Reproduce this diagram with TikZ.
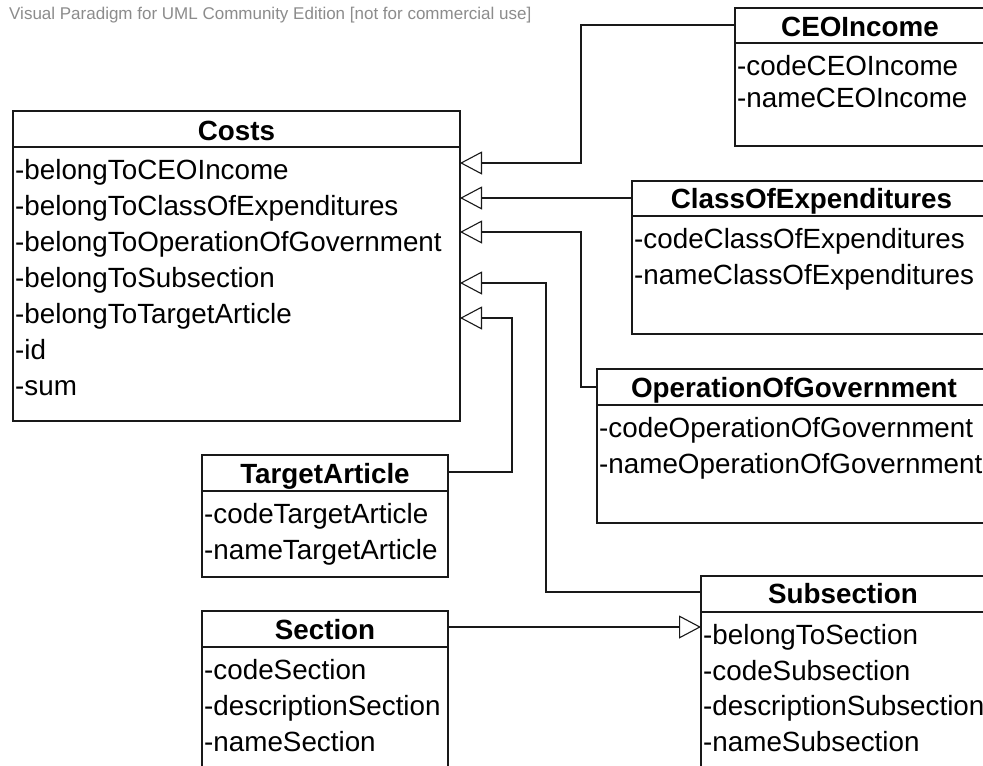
\documentclass[tikz,border=0pt]{standalone}
\usepackage{fontspec}
\setmainfont{Liberation Sans}
\usetikzlibrary{arrows.meta,calc}
\definecolor{wmgray}{RGB}{140,140,140}
\definecolor{linec}{RGB}{25,25,25}
\tikzset{
  classbox/.style={draw=linec, line width=1.3pt, fill=white, rectangle, inner sep=0pt, outer sep=0pt, anchor=north west},
  divline/.style={draw=linec, line width=1.3pt},
  ctitle/.style={font=\fontsize{27.8}{32}\selectfont\bfseries, anchor=base, inner sep=0pt},
  cattr/.style={font=\fontsize{27.8}{32}\selectfont, anchor=base west, inner sep=0pt},
  gen/.style={draw=linec, line width=1.1pt, -{Triangle[open, length=22pt, width=23pt]}},
  watermark/.style={font=\fontsize{17}{20}\selectfont, text=wmgray, anchor=base west, inner sep=0pt},
}
\begin{document}
\begin{tikzpicture}[x=1pt, y=-1pt]
\useasboundingbox (0,0) rectangle (983,766);
\clip (0,0) rectangle (983,766);
\fill[white] (0,0) rectangle (983,766);

\node[watermark] (wm) at (9,19.5) {Visual Paradigm for UML Community Edition [not for commercial use]};

% Costs
\node[classbox, minimum width=447pt, minimum height=310pt] (costs) at (13,111) {};
\draw[divline] (costs.west |- 0,147) -- (costs.east |- 0,147);
\node[ctitle] (costsT) at (236.5,140) {Costs};
\node[cattr] (c1) at (15,179) {-belongToCEOIncome};
\node[cattr] (c2) at (15,215) {-belongToClassOfExpenditures};
\node[cattr] (c3) at (15,251) {-belongToOperationOfGovernment};
\node[cattr] (c4) at (15,287) {-belongToSubsection};
\node[cattr] (c5) at (15,323) {-belongToTargetArticle};
\node[cattr] (c6) at (15,359) {-id};
\node[cattr] (c7) at (15,395) {-sum};

% CEOIncome
\node[classbox, minimum width=250pt, minimum height=138pt] (ceo) at (735,8) {};
\draw[divline] (ceo.west |- 0,43) -- (ceo.east |- 0,43);
\node[ctitle] (ceoT) at (860,36) {CEOIncome};
\node[cattr] (ceo1) at (737,75.5) {-codeCEOIncome};
\node[cattr] (ceo2) at (737,107) {-nameCEOIncome};

% ClassOfExpenditures
\node[classbox, minimum width=359pt, minimum height=153pt] (coe) at (632,181) {};
\draw[divline] (coe.west |- 0,216) -- (coe.east |- 0,216);
\node[ctitle] (coeT) at (811.5,208.5) {ClassOfExpenditures};
\node[cattr] (coe1) at (634,248) {-codeClassOfExpenditures};
\node[cattr] (coe2) at (634,284) {-nameClassOfExpenditures};

% OperationOfGovernment
\node[classbox, minimum width=394pt, minimum height=154pt] (opg) at (597,369) {};
\draw[divline] (opg.west |- 0,405) -- (opg.east |- 0,405);
\node[ctitle] (opgT) at (794,397.5) {OperationOfGovernment};
\node[cattr] (opg1) at (599,437) {-codeOperationOfGovernment};
\node[cattr] (opg2) at (599,473) {-nameOperationOfGovernment};

% TargetArticle
\node[classbox, minimum width=246pt, minimum height=122pt] (ta) at (202,455) {};
\draw[divline] (ta.west |- 0,491) -- (ta.east |- 0,491);
\node[ctitle] (taT) at (325,483.5) {TargetArticle};
\node[cattr] (ta1) at (204,523) {-codeTargetArticle};
\node[cattr] (ta2) at (204,559) {-nameTargetArticle};

% Section
\node[classbox, minimum width=246pt, minimum height=190pt] (sec) at (202,611) {};
\draw[divline] (sec.west |- 0,647) -- (sec.east |- 0,647);
\node[ctitle] (secT) at (325,639.5) {Section};
\node[cattr] (sec1) at (204,679) {-codeSection};
\node[cattr] (sec2) at (204,715) {-descriptionSection};
\node[cattr] (sec3) at (204,751) {-nameSection};

% Subsection
\node[classbox, minimum width=284pt, minimum height=220pt] (sub) at (701,576) {};
\draw[divline] (sub.west |- 0,612) -- (sub.east |- 0,612);
\node[ctitle] (subT) at (843,603.5) {Subsection};
\node[cattr] (sub1) at (703,644) {-belongToSection};
\node[cattr] (sub2) at (703,680) {-codeSubsection};
\node[cattr] (sub3) at (703,715.5) {-descriptionSubsection};
\node[cattr] (sub4) at (703,751) {-nameSubsection};

% connectors (generalisations)
\draw[gen] (ceo.west |- 0,25) -| (581,163) -- (costs.east |- 0,163);
\draw[gen] (coe.west |- 0,198) -- (costs.east |- 0,198);
\draw[gen] (opg.west |- 0,387) -| (581,232) -- (costs.east |- 0,232);
\draw[gen] (sub.west |- 0,592) -| (546,283) -- (costs.east |- 0,283);
\draw[gen] (ta.east |- 0,472) -| (512,318) -- (costs.east |- 0,318);
\draw[gen] (sec.east |- 0,627) -- (sub.west |- 0,627);
\end{tikzpicture}
\end{document}
